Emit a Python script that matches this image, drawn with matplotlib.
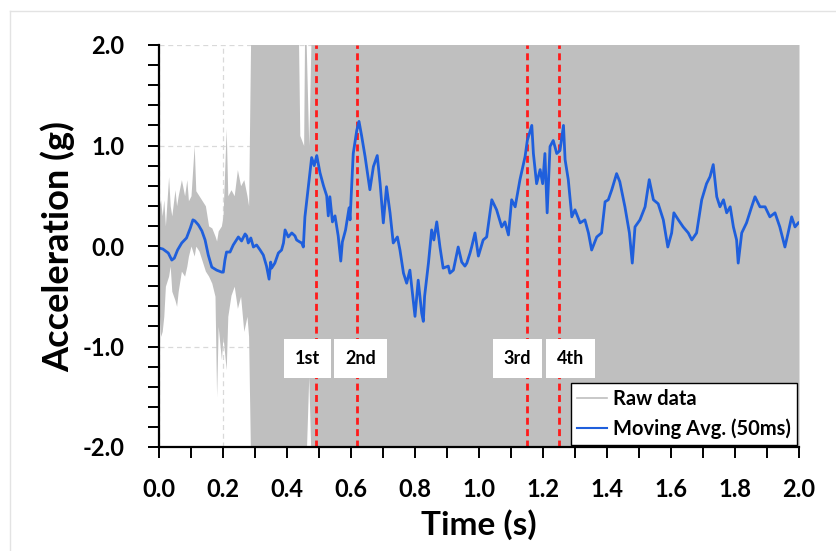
import matplotlib
matplotlib.use("Agg")
import matplotlib.pyplot as plt
from matplotlib.lines import Line2D
from matplotlib.ticker import MultipleLocator, FormatStrFormatter

plt.rcParams['font.family'] = ['Lato', 'DejaVu Sans']
plt.rcParams['font.weight'] = 'bold'

# ---- Moving average (50 ms) series ----
ma_time = [0.000, 0.012, 0.029, 0.040, 0.048, 0.058, 0.071, 0.086, 0.098, 0.106,
           0.112, 0.123, 0.134, 0.144, 0.154, 0.165, 0.180, 0.196, 0.201, 0.206,
           0.211, 0.222, 0.232, 0.248, 0.258, 0.269, 0.274, 0.279, 0.287, 0.295,
           0.305, 0.316, 0.326, 0.336, 0.344, 0.349, 0.352, 0.362, 0.373, 0.383,
           0.389, 0.394, 0.404, 0.415, 0.425, 0.430, 0.440, 0.446, 0.451, 0.456,
           0.467, 0.477, 0.485, 0.493, 0.503, 0.514, 0.524, 0.529, 0.534, 0.542,
           0.550, 0.560, 0.568, 0.573, 0.583, 0.594, 0.597, 0.607, 0.618, 0.625,
           0.633, 0.644, 0.659, 0.670, 0.682, 0.691, 0.701, 0.711, 0.722, 0.732,
           0.745, 0.753, 0.764, 0.774, 0.784, 0.800, 0.810, 0.821, 0.826, 0.830,
           0.842, 0.852, 0.859, 0.868, 0.878, 0.888, 0.904, 0.909, 0.920, 0.935,
           0.946, 0.956, 0.962, 0.972, 0.977, 0.9875, 0.998, 1.013, 1.024, 1.040,
           1.055, 1.071, 1.081, 1.092, 1.102, 1.113, 1.128, 1.144, 1.151, 1.165,
           1.170, 1.180, 1.191, 1.199, 1.206, 1.213, 1.222, 1.232, 1.243, 1.253,
           1.264, 1.269, 1.279, 1.290, 1.300, 1.316, 1.331, 1.342, 1.352, 1.368,
           1.383, 1.394, 1.404, 1.415, 1.430, 1.440, 1.456, 1.470, 1.479, 1.4875,
           1.503, 1.519, 1.532, 1.545, 1.560, 1.576, 1.590, 1.602, 1.609, 1.623,
           1.638, 1.654, 1.665, 1.680, 1.696, 1.711, 1.722, 1.732, 1.743, 1.753,
           1.764, 1.774, 1.785, 1.795, 1.805, 1.810, 1.821, 1.836, 1.852, 1.8625,
           1.878, 1.894, 1.909, 1.925, 1.940, 1.956, 1.966, 1.977, 1.9875, 1.998]
ma_accel = [-0.02, -0.03, -0.07, -0.14, -0.12, -0.04, 0.03, 0.08, 0.18, 0.26,
            0.25, 0.21, 0.15, 0.06, -0.09, -0.21, -0.24, -0.26, -0.26, -0.14,
            -0.06, -0.06, 0.01, 0.09, 0.05, 0.12, 0.10, 0.03, 0.08, -0.01,
            0.01, -0.04, -0.09, -0.20, -0.33, -0.16, -0.22, -0.17, -0.07, -0.04,
            0.03, 0.16, 0.09, 0.13, 0.10, 0.06, 0.04, 0.03, -0.01, 0.29,
            0.60, 0.88, 0.80, 0.90, 0.73, 0.60, 0.50, 0.30, 0.49, 0.24,
            0.30, 0.10, -0.15, 0.04, 0.16, 0.38, 0.26, 0.92, 1.15, 1.24,
            1.10, 0.89, 0.56, 0.79, 0.90, 0.62, 0.23, 0.59, 0.33, 0.03,
            0.09, -0.04, -0.27, -0.37, -0.24, -0.70, -0.34, -0.67, -0.75, -0.50,
            -0.17, 0.16, 0.06, 0.24, -0.01, -0.22, -0.20, -0.27, -0.24, -0.01,
            -0.16, -0.20, -0.17, -0.07, -0.01, 0.13, -0.10, 0.06, 0.09, 0.46,
            0.36, 0.19, 0.24, 0.11, 0.46, 0.39, 0.66, 0.89, 1.05, 1.20,
            0.92, 0.62, 0.76, 0.62, 0.92, 0.33, 0.99, 1.05, 0.92, 0.95,
            1.20, 0.86, 0.66, 0.29, 0.36, 0.23, 0.26, 0.13, -0.04, 0.09,
            0.13, 0.44, 0.46, 0.56, 0.72, 0.64, 0.39, 0.13, -0.17, 0.19,
            0.26, 0.39, 0.66, 0.46, 0.42, 0.26, -0.01, 0.13, 0.33, 0.26,
            0.19, 0.13, 0.06, 0.13, 0.46, 0.62, 0.69, 0.81, 0.49, 0.39,
            0.46, 0.33, 0.39, 0.19, 0.06, -0.17, 0.13, 0.23, 0.39, 0.49,
            0.39, 0.39, 0.29, 0.33, 0.19, -0.01, 0.13, 0.29, 0.19, 0.23]

# ---- Raw data envelope (upper / lower extent of the raw signal) ----
raw_time = [0.000, 0.005, 0.010, 0.015, 0.020, 0.030, 0.035, 0.040, 0.050, 0.055,
            0.060, 0.070, 0.080, 0.087, 0.092, 0.100, 0.110, 0.115, 0.125, 0.135,
            0.145, 0.155, 0.165, 0.175, 0.180, 0.185, 0.195, 0.200, 0.210, 0.215,
            0.225, 0.235, 0.245, 0.255, 0.265, 0.275, 0.280, 0.288, 0.300, 0.350,
            0.400, 0.434, 0.440, 0.452, 0.456, 0.468, 0.478, 0.600, 1.000, 1.500, 2.000]
raw_high = [0.40, 0.46, 0.30, 0.46, 0.20, 0.69, 0.40, 0.30, 0.56, 0.40,
            0.50, 0.66, 0.50, 0.66, 0.45, 0.50, 1.00, 0.55, 0.50, 0.45,
            0.40, 0.20, 0.18, 0.10, 0.05, 0.15, 0.20, 0.30, 1.17, 0.50,
            0.56, 0.50, 0.76, 0.60, 0.66, 0.50, 0.40, 2.50, 2.50, 2.50,
            2.50, 2.50, 1.10, 1.00, 2.50, 1.00, 2.50, 2.50, 2.50, 2.50, 2.50]
raw_low = [-0.60, -0.90, -0.85, -0.70, -0.40, -0.30, -0.20, -0.45, -0.54, -0.60,
           -0.45, -0.25, -0.30, -0.20, -0.10, 0.00, -0.10, 0.00, -0.05, -0.15,
           -0.25, -0.30, -0.37, -0.50, -1.50, -0.80, -1.13, -0.90, -1.23, -0.70,
           -0.49, -0.40, -0.62, -0.50, -0.85, -0.70, -0.90, -2.50, -2.50, -2.50,
           -2.50, -2.50, -2.50, -2.50, -2.50, -1.30, -2.50, -2.50, -2.50, -2.50, -2.50]

# ---- Event markers ----
event_times = [0.49, 0.62, 1.15, 1.25]
event_labels = ['1st', '2nd', '3rd', '4th']
event_label_x = [0.465, 0.630, 1.120, 1.285]
event_label_y = -1.12

fig = plt.figure(figsize=(8.37, 5.51), dpi=100)
ax = fig.add_axes([159 / 837, 104 / 551, 640 / 837, 402 / 551])

# faint outer border (left and top edges visible)
fig.add_artist(Line2D([9.5 / 837, 9.5 / 837], [0, 540 / 551], transform=fig.transFigure,
                      color='#e3e3e3', lw=1))
fig.add_artist(Line2D([9.5 / 837, 1], [540 / 551, 540 / 551], transform=fig.transFigure,
                      color='#e3e3e3', lw=1))

ax.set_xlim(0, 2.0)
ax.set_ylim(-2.0, 2.0)
ax.set_axisbelow(True)
ax.grid(True, which='major', color='#d9d9d9', linestyle=(0, (4, 3)), lw=0.9)

raw_color = '#bfbfbf'
ax.fill_between(raw_time, raw_low, raw_high, color=raw_color, lw=0, zorder=2)

for t in event_times:
    ax.axvline(t, color='#ff1a1a', lw=2, linestyle=(0, (2.5, 1.6)), zorder=3)

ma_color = '#1f5fdc'
ax.plot(ma_time, ma_accel, color=ma_color, lw=2.0, zorder=4)

for x, lab in zip(event_label_x, event_labels):
    ax.text(x, event_label_y, lab, ha='center', va='center', fontsize=13, fontweight='bold',
            color='black', zorder=6,
            bbox=dict(boxstyle='square,pad=0.6', fc='white', ec='none'))

ax.xaxis.set_major_locator(MultipleLocator(0.2))
ax.xaxis.set_minor_locator(MultipleLocator(0.1))
ax.yaxis.set_major_locator(MultipleLocator(1.0))
ax.yaxis.set_minor_locator(MultipleLocator(0.2))
ax.xaxis.set_major_formatter(FormatStrFormatter('%.1f'))
ax.yaxis.set_major_formatter(FormatStrFormatter('%.1f'))

ax.tick_params(which='both', direction='out', length=8, width=1.4, color='black')
ax.tick_params(axis='x', which='major', pad=14, labelsize=17)
ax.tick_params(axis='y', which='major', pad=17, labelsize=17)
for lbl in ax.get_xticklabels() + ax.get_yticklabels():
    lbl.set_fontweight('bold')

for s in ['top', 'right']:
    ax.spines[s].set_visible(False)
for s in ['left', 'bottom']:
    ax.spines[s].set_linewidth(1.6)
    ax.spines[s].set_color('black')
    ax.spines[s].set_zorder(7)

ax.set_xlabel('Time (s)', fontsize=24, fontweight='bold', labelpad=6)
ax.set_ylabel('Acceleration (g)', fontsize=26, fontweight='bold', labelpad=5)

handles = [Line2D([], [], color=raw_color, lw=1.2), Line2D([], [], color=ma_color, lw=1.5)]
leg = ax.legend(handles, ['Raw data', 'Moving Avg. (50ms)'], loc='lower right',
                fontsize=14.5, frameon=True, fancybox=False, framealpha=1,
                edgecolor='black', borderaxespad=0.1, handlelength=1.5,
                handletextpad=0.3, borderpad=0.3, labelspacing=0.45)
leg.get_frame().set_linewidth(1.0)
for txt in leg.get_texts():
    txt.set_fontweight('bold')
leg.set_zorder(8)

fig.savefig('out.png', dpi=100, facecolor='white')
